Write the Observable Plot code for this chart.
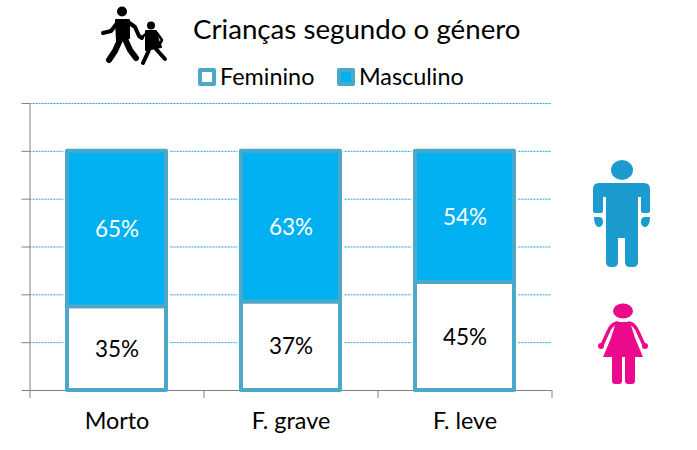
<!DOCTYPE html>
<html lang="pt">
<head>
<meta charset="utf-8">
<script src="https://cdn.jsdelivr.net/npm/d3@7"></script>
<script src="https://cdn.jsdelivr.net/npm/@observablehq/plot@0.6"></script>
<style>
  html, body { margin: 0; padding: 0; background: #fff; }
  #page { position: relative; width: 697px; height: 450px; overflow: hidden; font-family: Lato, sans-serif; color: #000; }
  #head { position: relative; height: 90px; }
  #title { position: absolute; left: 193px; top: 12px; font-size: 27.7px; line-height: 34px; white-space: nowrap; }
  .lg { position: absolute; top: 61px; font-size: 23.4px; line-height: 30px; white-space: nowrap; }
  .sw { position: absolute; top: 68px; width: 10px; height: 10px; border: 4px solid #4ba8c8; border-radius: 2px; }
  #art { position: absolute; left: 0; top: 0; pointer-events: none; }
  #chart svg { display: block; }
</style>
</head>
<body>
<div id="page">
  <div id="head">
    <div id="title">Crianças segundo o género</div>
    <div class="sw" style="left:198px;background:#fff"></div>
    <div class="lg" style="left:220px">Feminino</div>
    <div class="sw" style="left:337px;background:#00b0f0"></div>
    <div class="lg" style="left:359px">Masculino</div>
  </div>
  <div id="chart"></div>
  <svg id="art" width="697" height="450" viewBox="0 0 697 450" aria-hidden="true">
    <g fill="#000" stroke="#000" stroke-linecap="round" stroke-linejoin="round">
      <circle cx="122" cy="11.5" r="5" stroke="none"/>
      <path d="M116 20L129 20L129 38L117 41Z" stroke-width="2"/>
      <path d="M118 22L111 31L103 33M128 22L135 27L139 36L142 38" fill="none" stroke-width="4"/>
      <path d="M120 40L115 51L109 60M125 39L130 50L136 58" fill="none" stroke-width="6"/>
      <circle cx="151" cy="25.5" r="4" stroke="none"/>
      <path d="M146 31L156 31L158 40L161 47L146 50Z" stroke-width="2"/>
      <path d="M147 33L141 38M157 33L162 40L160 44" fill="none" stroke-width="2.6"/>
      <path d="M149 50L143 63M156 49L165 59" fill="none" stroke-width="4"/>
    </g>
    <g fill="#1b9bce">
      <ellipse cx="622" cy="170" rx="11" ry="10"/>
      <path d="M599 183H644Q650 183 650 189V211Q650 213 647 213H644Q641 213 641 211V197H638V262Q638 267 633 267H630Q625 267 625 262V238H618V262Q618 267 613 267H611Q606 267 606 262V197H603V211Q603 213 600 213H596Q593 213 593 211V189Q593 183 599 183Z"/>
      <path d="M594 217H599Q603 217 603 222Q603 227 598 227Q594 225 594 217ZM650 217H645Q641 217 641 222Q641 227 646 227Q650 225 650 217Z"/>
    </g>
    <g fill="#ec0a8c">
      <ellipse cx="623" cy="311" rx="10" ry="7.5"/>
      <path d="M616 322H630L635 338L643 357H635V381Q635 384 632 384H628Q625 384 625 381V357H622V381Q622 384 619 384H615Q612 384 612 381V357H603L611 338Z"/>
      <path d="M617 323Q611 324 608 332L602 345M629 323Q635 324 638 332L644 345" fill="none" stroke="#ec0a8c" stroke-width="3.5" stroke-linecap="round"/>
      <circle cx="601" cy="346" r="3"/>
      <circle cx="645" cy="346" r="3"/>
    </g>
  </svg>
</div>
<script>
const categories = ["Morto", "F. grave", "F. leve"];
const feminino = [35, 37, 45.2];
const masculino = [65, 63, 54.8];
const femininoLabels = ["35%", "37%", "45%"];
const masculinoLabels = ["65%", "63%", "54%"];
const gridTicks = [20, 40, 60, 80, 100, 120];
const allTicks = [0, 20, 40, 60, 80, 100, 120];

const plotHeight = 360;
const marginLeft = 29.5, marginRight = 145.5;
const step = (697 - marginLeft - marginRight) / categories.length;

const rows = categories.flatMap((c, i) => [
  {cat: c, gender: "Feminino", y1: 0, y2: feminino[i], label: femininoLabels[i]},
  {cat: c, gender: "Masculino", y1: feminino[i], y2: feminino[i] + masculino[i], label: masculinoLabels[i]}
]);

const chart = Plot.plot({
  width: 697,
  height: plotHeight,
  marginTop: 13,
  marginBottom: 60,
  marginLeft,
  marginRight,
  style: {background: "transparent", fontFamily: "Lato, sans-serif", overflow: "visible"},
  x: {domain: categories, paddingInner: 0.43, paddingOuter: 0.215, label: null},
  y: {domain: [0, 120], label: null},
  color: {domain: ["Feminino", "Masculino"], range: ["#ffffff", "#00b0f0"]},
  marks: [
    Plot.ruleY(gridTicks, {stroke: "#1ea2e0", strokeWidth: 1, strokeDasharray: "2,1"}),
    Plot.axisY({ticks: allTicks, tickFormat: () => "", tickSize: 8, stroke: "#808080", label: null}),
    Plot.ruleX(categories.slice(0, 1), {x: d => d, dx: -step / 2, y1: -3.35, y2: 120, stroke: "#808080"}),
    Plot.ruleX(categories.slice(1), {x: d => d, dx: -step / 2, y1: -3.35, y2: 0, stroke: "#808080"}),
    Plot.ruleX(categories.slice(-1), {x: d => d, dx: step / 2, y1: -3.35, y2: 0, stroke: "#808080"}),
    Plot.barY(rows, {x: "cat", y1: "y1", y2: "y2", fill: "white", stroke: "white", strokeWidth: 7}),
    Plot.ruleY([0], {stroke: "#808080", strokeWidth: 1}),
    Plot.barY(rows, {x: "cat", y1: "y1", y2: "y2", fill: "gender", stroke: "#4ba8c8", strokeWidth: 4, strokeLinejoin: "round"}),
    Plot.text(rows, {
      x: "cat",
      y: d => (d.y1 + d.y2) / 2,
      text: "label",
      fontSize: 22.5,
      dy: 1,
      fill: d => d.gender === "Masculino" ? "#fff" : "#000"
    }),
    Plot.axisX({tickSize: 0, tickPadding: 22, fontSize: 23.4, color: "#000", label: null, lineAnchor: "top"})
  ]
});
document.getElementById("chart").appendChild(chart);
</script>
</body>
</html>
